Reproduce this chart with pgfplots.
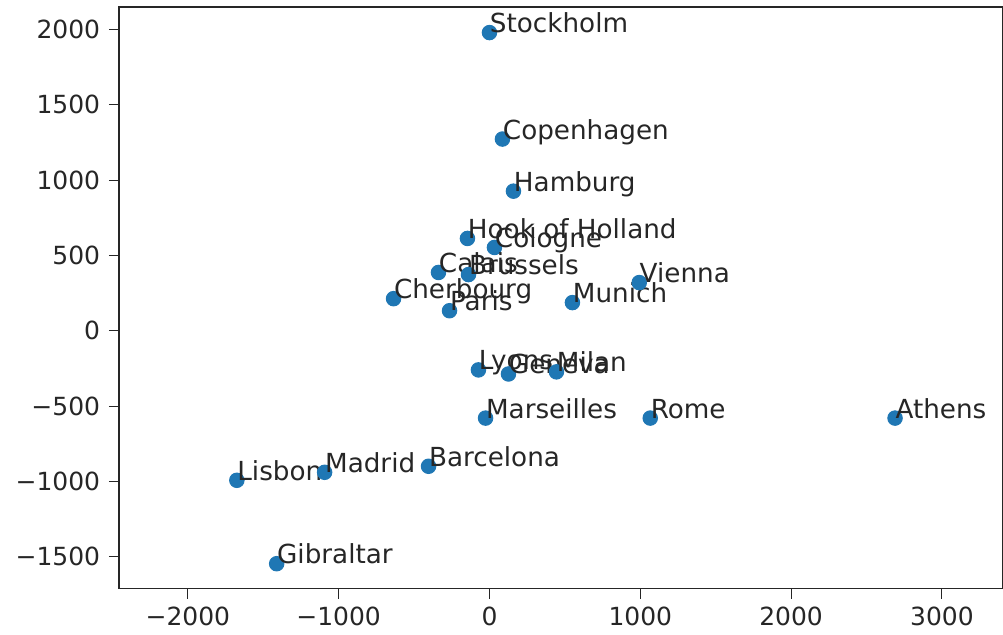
\documentclass[border=0pt]{standalone}
\usepackage{fontspec}
\setmainfont{DejaVu Sans}
\usepackage{pgfplots}
\pgfplotsset{compat=1.18}
\definecolor{mplblue}{HTML}{1F77B4}

\begin{document}
\begin{tikzpicture}
	\begin{axis}[
			scale only axis,
			width=353.6pt,
			height=232.8pt,
			xmin=-2457, xmax=3400,
			ymin=-1712, ymax=2150,
			xtick={-2000,-1000,0,1000,2000,3000},
			xticklabels={−2000,−1000,0,1000,2000,3000},
			ytick={-1500,-1000,-500,0,500,1000,1500,2000},
			yticklabels={−1500,−1000,−500,0,500,1000,1500,2000},
			tick align=outside,
			xtick pos=left,
			ytick pos=left,
			major tick length=4pt,
			tick style={black!85, line width=0.4pt},
			axis line style={black!85, line width=0.6pt},
			ticklabel style={font=\fontsize{10}{12}\selectfont, text=black!85},
			/pgf/number format/assume math mode=true,
			clip=false,
		]
		\addplot+[
			only marks,
			mark=*,
			mark size=2.9pt,
			color=mplblue,
			mark options={fill=mplblue, draw=mplblue},
			point meta=explicit symbolic,
			nodes near coords,
			nodes near coords style={anchor=base west, inner sep=0pt, text=black!85,
				font=\fontsize{10.5}{12}\selectfont},
		]
		coordinates {
			(0,1980) [Stockholm]
			(86,1273) [Copenhagen]
			(159,927) [Hamburg]
			(-146,613) [Hook of Holland]
			(33,553) [Cologne]
			(-338,387) [Calais]
			(-139,373) [Brussels]
			(-636,213) [Cherbourg]
			(-265,133) [Paris]
			(550,187) [Munich]
			(993,320) [Vienna]
			(-73,-260) [Lyons]
			(126,-287) [Geneva]
			(444,-273) [Milan]
			(-26,-580) [Marseilles]
			(1066,-580) [Rome]
			(2689,-580) [Athens]
			(-1675,-993) [Lisbon]
			(-1093,-940) [Madrid]
			(-404,-900) [Barcelona]
			(-1411,-1547) [Gibraltar]
		};
	\end{axis}
	% margins as in the reference
	\path ([xshift=-47.6pt,yshift=-18pt]current axis.south west);
	\path ([yshift=2.8pt]current axis.north east);
\end{tikzpicture}
\end{document}
